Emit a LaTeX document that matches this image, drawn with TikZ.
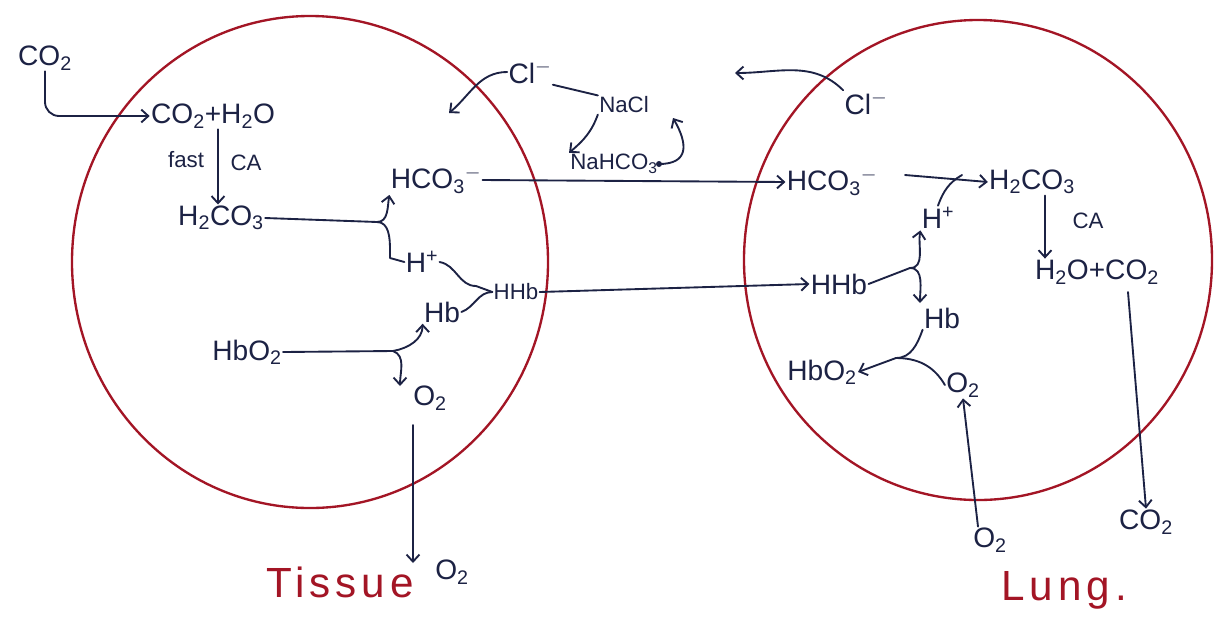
\documentclass[tikz,border=0pt]{standalone}
\usepackage{fontspec}
\setmainfont{Liberation Sans}
\usetikzlibrary{arrows.meta}
\definecolor{ink}{HTML}{1C2244}
\definecolor{cellred}{HTML}{A31525}
\tikzset{
  lbl/.style={text=ink, font=\fontsize{24}{28}\selectfont, inner sep=1pt},
  small/.style={font=\fontsize{19}{22}\selectfont},
  redlbl/.style={text=cellred, font=\fontsize{36}{40}\selectfont\addfontfeatures{LetterSpace=12}, inner sep=1pt},
  ln/.style={draw=ink, line width=1.6pt, line cap=round, line join=round},
  arr/.style={ln, -{Straight Barb[length=6pt,width=11pt]}},
  cell/.style={draw=cellred, line width=2pt}
}
\begin{document}
\begin{tikzpicture}[x=0.03cm,y=-0.03cm]
\useasboundingbox[fill=white] (0,0) rectangle (1223,630);
% cells
\draw[cell] (310,262) ellipse [x radius=238, y radius=246];
\draw[cell] (978,260) ellipse [x radius=234, y radius=240];

% ---------- left cell (tissue) ----------
\node[lbl] (co2a) at (45,58) {CO\textsubscript{2}};
\node[lbl] (w1) at (213,116) {CO\textsubscript{2}+H\textsubscript{2}O};
\node[lbl, small] (fast) at (186,160) {fast};
\node[lbl, small] (ca1) at (246,163) {CA};
\node[lbl] (h2co3l) at (221,218) {H\textsubscript{2}CO\textsubscript{3}};
\node[lbl] (hco3l) at (436,180) {HCO\textsubscript{3}\textsuperscript{$-$}};
\node[lbl] (hpl) at (422,262) {H\textsuperscript{+}};
\node[lbl] (hbl) at (442,312) {Hb};
\node[lbl, small] (hhbl) at (516,292) {HHb};
\node[lbl] (hbo2l) at (247,352) {HbO\textsubscript{2}};
\node[lbl] (o2l) at (430,398) {O\textsubscript{2}};
\node[lbl] (o2t) at (452,572) {O\textsubscript{2}};
\node[redlbl] (tissue) at (340,582) {Tissue};

\coordinate (jl1) at (377,222);
\coordinate (jl2) at (393,351);
\coordinate (o2ltop) at (413,425);
\coordinate (o2lbot) at (413,563);

\draw[arr, rounded corners=12] (co2a.south) |- (w1.west);
\draw[arr] (w1.south -| 218,0) -- (h2co3l.north -| 218,0);
\draw[ln] (h2co3l.east) -- (jl1);
\draw[arr] (jl1) to[out=0,in=-100] (hco3l.south west);
\draw[ln] (jl1) to[out=0,in=90] (390,250) -- (390,258) -- (hpl.west);
\draw[ln] (hpl.east) to[out=-10,in=180] (476,286) -- (hhbl.west);
\draw[ln] (hbl.east) to[out=20,in=180] (hhbl.west);
\draw[ln] (hbo2l.east) -- (jl2);
\draw[arr] (jl2) to[out=10,in=-90] (hbl.south west);
\draw[arr] (jl2) to[out=-20,in=90] (400,386);
\draw[arr] (o2ltop) -- (o2lbot);

% ---------- exchange in plasma ----------
\node[lbl] (cl1) at (530,72) {Cl\textsuperscript{$-$}};
\node[lbl, small] (nacl) at (624,105) {NaCl};
\node[lbl, small] (nahco3) at (614,164) {NaHCO\textsubscript{3}};
\coordinate (clin) at (449,113);
\coordinate (naclret) at (673,118);
\draw[arr] (cl1.west) to[out=180,in=40] (clin);
\draw[ln] (cl1.south east) -- (nacl.north west);
\draw[arr] (nacl.south west) to[out=-110,in=40] (nahco3.north west);
\draw[arr] (nahco3.east) to[out=0,in=-60,looseness=1.6] (naclret);
\fill[ink] (nahco3.east) circle (3);

\node[lbl] (hco3r) at (832,182) {HCO\textsubscript{3}\textsuperscript{$-$}};
\node[lbl] (hhbr) at (839,284) {HHb};
\draw[arr] (hco3l.east) -- (hco3r.west);
\draw[arr] (hhbl.east) -- (hhbr.west);

% ---------- right cell (lung) ----------
\node[lbl] (cl2) at (866,103) {Cl\textsuperscript{$-$}};
\coordinate (clout) at (735,73);
\draw[arr] (cl2.north west) to[out=135,in=0] (clout);

\node[lbl] (h2co3r) at (1032,182) {H\textsubscript{2}CO\textsubscript{3}};
\node[lbl] (hpr) at (938,218) {H\textsuperscript{+}};
\node[lbl, small] (car) at (1088,221) {CA};
\node[lbl] (w2) at (1097,272) {H\textsubscript{2}O+CO\textsubscript{2}};
\node[lbl] (hbr) at (942,318) {Hb};
\node[lbl] (hbo2r) at (822,372) {HbO\textsubscript{2}};
\node[lbl] (o2r) at (963,385) {O\textsubscript{2}};
\node[lbl] (o2in) at (990,540) {O\textsubscript{2}};
\node[lbl] (co2r) at (1146,522) {CO\textsubscript{2}};
\node[redlbl] (lung) at (1064,590) {Lung.};

\coordinate (hstart) at (905,175);
\coordinate (hjoin) at (962,175);
\coordinate (jr1) at (910,268);
\coordinate (jr2) at (896,358);
\coordinate (co2top) at (1128,292);

\draw[arr] (hstart) -- (h2co3r.west);
\draw[ln] (hpr.north) to[out=70,in=210] (hjoin);
\draw[arr] (h2co3r.south -| 1045,0) -- (w2.north -| 1045,0);
\draw[ln] (hhbr.east) -- (jr1);
\draw[arr] (jr1) to[out=0,in=-100] (hpr.south west);
\draw[arr] (jr1) to[out=0,in=90] (920,303);
\draw[ln] (hbr.south west) to[out=-110,in=0] (jr2);
\draw[ln] (o2r.west) to[out=120,in=0] (jr2);
\draw[arr] (jr2) -- (hbo2r.east);
\draw[arr] (o2in.north -| 978,0) -- (o2r.south);
\draw[arr] (co2top) -- (co2r.north);
\end{tikzpicture}
\end{document}
